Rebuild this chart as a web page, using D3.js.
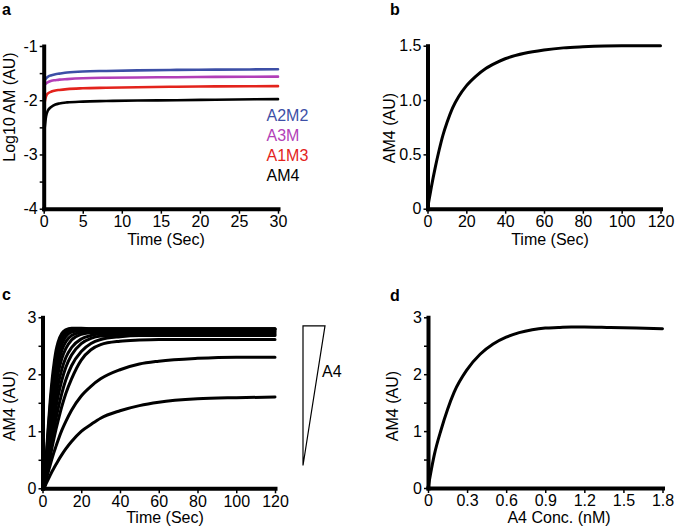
<!DOCTYPE html>
<html><head><meta charset="utf-8">
<script src="https://cdn.jsdelivr.net/npm/d3@7"></script>
<style>
body{margin:0;background:#fff}
text{font-family:"Liberation Sans",Arial,Helvetica,sans-serif}
</style>
</head><body>
<svg id="chart" width="675" height="528"></svg>
<script>
// ---------- Panel a ----------
const timeA = [0.1, 0.3, 0.5, 1, 1.5, 2, 3, 5, 8, 12, 17, 22, 30];
const a2m2 = [-1.64, -1.60, -1.57, -1.54, -1.52, -1.51, -1.49, -1.47, -1.46, -1.45, -1.44, -1.435, -1.43];
const a3m  = [-1.72, -1.69, -1.67, -1.64, -1.63, -1.62, -1.61, -1.595, -1.585, -1.58, -1.575, -1.57, -1.565];
const a1m3 = [-2.05, -1.93, -1.88, -1.84, -1.82, -1.81, -1.795, -1.78, -1.77, -1.76, -1.75, -1.745, -1.74];
const am4a = [-2.55, -2.30, -2.20, -2.12, -2.08, -2.06, -2.04, -2.025, -2.015, -2.005, -2.0, -1.99, -1.98];
const seriesNamesA = ["A2M2", "A3M", "A1M3", "AM4"];
const seriesColorsA = ["#3d4fa6", "#b23fb8", "#e3231c", "#000000"];
const xTicksA = [0, 5, 10, 15, 20, 25, 30];
const xLabelsA = ["0", "5", "10", "15", "20", "25", "30"];
const yTicksA = [-1, -1.5, -2, -2.5, -3, -3.5, -4];
const yLabelsA = ["-1", "", "-2", "", "-3", "", "-4"];

// ---------- Panel b ----------
const timeB = [0, 1, 2, 4, 6, 8, 10, 13, 16, 20, 25, 30, 35, 40, 50, 60, 70, 80, 100, 120];
const am4b  = [0, 0.1, 0.2, 0.38, 0.54, 0.68, 0.79, 0.93, 1.03, 1.13, 1.22, 1.29, 1.34, 1.38, 1.43, 1.46, 1.48, 1.49, 1.5, 1.5];
const xTicksB = [0, 20, 40, 60, 80, 100, 120];
const xLabelsB = ["0", "20", "40", "60", "80", "100", "120"];
const yTicksB = [0, 0.5, 1.0, 1.5];
const yLabelsB = ["0", "0.5", "1.0", "1.5"];

// ---------- Panel c ----------
const timeC = [0, 1, 2, 3, 4, 5, 6, 7, 8, 10, 12, 15, 20, 25, 30, 40, 50, 60, 80, 100, 120];
const c01 = [0, 0.12, 0.60, 1.10, 1.55, 1.92, 2.20, 2.42, 2.56, 2.72, 2.78, 2.81, 2.81, 2.80, 2.80, 2.80, 2.80, 2.80, 2.80, 2.80, 2.80];
const c02 = [0, 0.11, 0.55, 1.02, 1.45, 1.81, 2.10, 2.33, 2.49, 2.68, 2.76, 2.80, 2.80, 2.80, 2.80, 2.80, 2.80, 2.80, 2.80, 2.80, 2.80];
const c03 = [0, 0.10, 0.50, 0.94, 1.35, 1.70, 1.99, 2.22, 2.40, 2.62, 2.72, 2.77, 2.79, 2.79, 2.79, 2.79, 2.79, 2.79, 2.79, 2.79, 2.79];
const c04 = [0, 0.09, 0.46, 0.86, 1.24, 1.58, 1.87, 2.10, 2.29, 2.53, 2.66, 2.74, 2.77, 2.78, 2.78, 2.78, 2.78, 2.78, 2.78, 2.78, 2.78];
const c05 = [0, 0.08, 0.42, 0.79, 1.14, 1.46, 1.74, 1.97, 2.16, 2.42, 2.57, 2.68, 2.74, 2.76, 2.76, 2.76, 2.76, 2.76, 2.76, 2.76, 2.76];
const c06 = [0, 0.07, 0.38, 0.71, 1.03, 1.33, 1.59, 1.82, 2.01, 2.28, 2.45, 2.60, 2.70, 2.73, 2.74, 2.74, 2.74, 2.74, 2.74, 2.74, 2.74];
const c07 = [0, 0.06, 0.33, 0.62, 0.90, 1.17, 1.41, 1.62, 1.81, 2.09, 2.29, 2.47, 2.62, 2.68, 2.71, 2.72, 2.72, 2.72, 2.72, 2.72, 2.72];
const c08 = [0, 0.05, 0.28, 0.53, 0.78, 1.01, 1.23, 1.43, 1.61, 1.90, 2.12, 2.34, 2.54, 2.63, 2.67, 2.69, 2.70, 2.70, 2.70, 2.70, 2.70];
const c09 = [0, 0.04, 0.24, 0.45, 0.66, 0.86, 1.05, 1.23, 1.39, 1.67, 1.90, 2.15, 2.40, 2.54, 2.61, 2.66, 2.68, 2.68, 2.68, 2.68, 2.68];
const c10 = [0, 0.03, 0.20, 0.38, 0.56, 0.73, 0.89, 1.04, 1.18, 1.44, 1.66, 1.92, 2.25, 2.43, 2.52, 2.58, 2.60, 2.61, 2.61, 2.61, 2.61];
const c11 = [0, 0.03, 0.16, 0.29, 0.41, 0.53, 0.64, 0.74, 0.84, 1.02, 1.17, 1.37, 1.62, 1.79, 1.92, 2.08, 2.18, 2.23, 2.28, 2.30, 2.30];
const c12 = [0, 0.02, 0.09, 0.16, 0.23, 0.30, 0.36, 0.42, 0.48, 0.59, 0.69, 0.82, 1.00, 1.12, 1.23, 1.36, 1.45, 1.51, 1.57, 1.59, 1.60];
const seriesC = [c01, c02, c03, c04, c05, c06, c07, c08, c09, c10, c11, c12];
const xTicksC = [0, 20, 40, 60, 80, 100, 120];
const xLabelsC = ["0", "20", "40", "60", "80", "100", "120"];
const yTicksC = [0, 0.5, 1, 1.5, 2, 2.5, 3];
const yLabelsC = ["0", "", "1", "", "2", "", "3"];

// ---------- Panel d ----------
const concD = [0, 0.05, 0.1, 0.15, 0.2, 0.3, 0.4, 0.5, 0.6, 0.7, 0.8, 0.9, 1.0, 1.1, 1.2, 1.4, 1.6, 1.8];
const am4d  = [0, 0.6, 1.02, 1.38, 1.68, 2.08, 2.35, 2.53, 2.65, 2.73, 2.78, 2.81, 2.82, 2.83, 2.83, 2.82, 2.81, 2.80];
const xTicksD = [0, 0.3, 0.6, 0.9, 1.2, 1.5, 1.8];
const xLabelsD = ["0", "0.3", "0.6", "0.9", "1.2", "1.5", "1.8"];
const yTicksD = [0, 0.5, 1, 1.5, 2, 2.5, 3];
const yLabelsD = ["0", "", "1", "", "2", "", "3"];

const svg = d3.select("#chart");

function drawAxes(x, y, xt, xl, yt, yl) {
  const gx = svg.append("g").attr("transform", `translate(0,${y.range()[0]})`)
    .call(d3.axisBottom(x).tickValues(xt).tickFormat((d, i) => xl[i]).tickSize(5).tickSizeOuter(0).tickPadding(2));
  const gy = svg.append("g").attr("transform", `translate(${x.range()[0]},0)`)
    .call(d3.axisLeft(y).tickValues(yt).tickFormat((d, i) => yl[i]).tickSize(4).tickSizeOuter(0).tickPadding(2));
  [gx, gy].forEach(g => {
    g.attr("font-size", 16).attr("font-family", '"Liberation Sans",Arial,sans-serif');
    g.select(".domain").attr("stroke", "#000").attr("stroke-width", 4).attr("stroke-linecap", "square");
    g.selectAll(".tick line").attr("stroke", "#000").attr("stroke-width", 1.5);
    g.selectAll(".tick text").attr("fill", "#000");
  });
}

function drawLine(x, y, xs, ys, color, w) {
  const pts = xs.map((v, i) => [v, ys[i]]);
  svg.append("path").datum(pts)
    .attr("fill", "none").attr("stroke", color).attr("stroke-width", w)
    .attr("stroke-linejoin", "round").attr("stroke-linecap", "round")
    .attr("d", d3.line().x(d => x(d[0])).y(d => y(d[1])).curve(d3.curveMonotoneX));
}

function label(txt, x, y, opts = {}) {
  const t = svg.append("text").attr("x", x).attr("y", y).text(txt)
    .attr("font-size", opts.size || 16).attr("fill", opts.color || "#000")
    .attr("text-anchor", opts.anchor || "start");
  if (opts.bold) t.attr("font-weight", "bold");
  if (opts.rotate) t.attr("transform", `rotate(-90,${x},${y})`);
  return t;
}

// Panel a
const xA = d3.scaleLinear([0, 30], [43.7, 278]);
const yA = d3.scaleLinear([-4, -1], [208.7, 46]);
[a2m2, a3m, a1m3, am4a].forEach((s, i) => drawLine(xA, yA, timeA, s, seriesColorsA[i], 2.6));
drawAxes(xA, yA, xTicksA, xLabelsA, yTicksA, yLabelsA);
seriesNamesA.forEach((n, i) => label(n, 266.5, 120.7 + i * 20, {color: seriesColorsA[i]}));
label("Log10 AM (AU)", 15, 107, {anchor: "middle", rotate: true});
label("Time (Sec)", 166, 245, {anchor: "middle"});
label("a", 2, 15, {bold: true});

// Panel b
const xB = d3.scaleLinear([0, 120], [427.5, 660.5]);
const yB = d3.scaleLinear([0, 1.5], [208.7, 45.7]);
drawLine(xB, yB, timeB, am4b, "#000", 3);
drawAxes(xB, yB, xTicksB, xLabelsB, yTicksB, yLabelsB);
label("AM4 (AU)", 395, 128, {anchor: "middle", rotate: true});
label("Time (Sec)", 550, 245, {anchor: "middle"});
label("b", 390, 15, {bold: true});

// Panel c
const xC = d3.scaleLinear([0, 120], [42.5, 275]);
const yC = d3.scaleLinear([0, 3], [488.3, 317.3]);
seriesC.forEach(s => drawLine(xC, yC, timeC, s, "#000", 3));
drawAxes(xC, yC, xTicksC, xLabelsC, yTicksC, yLabelsC);
label("AM4 (AU)", 15, 406, {anchor: "middle", rotate: true});
label("Time (Sec)", 165, 523, {anchor: "middle"});
label("c", 2, 300, {bold: true});
// A4 gradient wedge
const wx0 = xC.range()[1] + 28, wx1 = xC.range()[1] + 50;
svg.append("path")
  .attr("d", `M${wx0},${yC(2.85)}H${wx1}L${wx0},${yC(0.4)}Z`)
  .attr("fill", "#fff").attr("stroke", "#000").attr("stroke-width", 1.2);
label("A4", 322, 377);

// Panel d
const xD = d3.scaleLinear([0, 1.8], [428, 662.5]);
const yD = d3.scaleLinear([0, 3], [488, 317.3]);
drawLine(xD, yD, concD, am4d, "#000", 3);
drawAxes(xD, yD, xTicksD, xLabelsD, yTicksD, yLabelsD);
label("AM4 (AU)", 398, 406, {anchor: "middle", rotate: true});
label("A4 Conc. (nM)", 559, 523, {anchor: "middle"});
label("d", 390, 301, {bold: true});
</script>
</body></html>
